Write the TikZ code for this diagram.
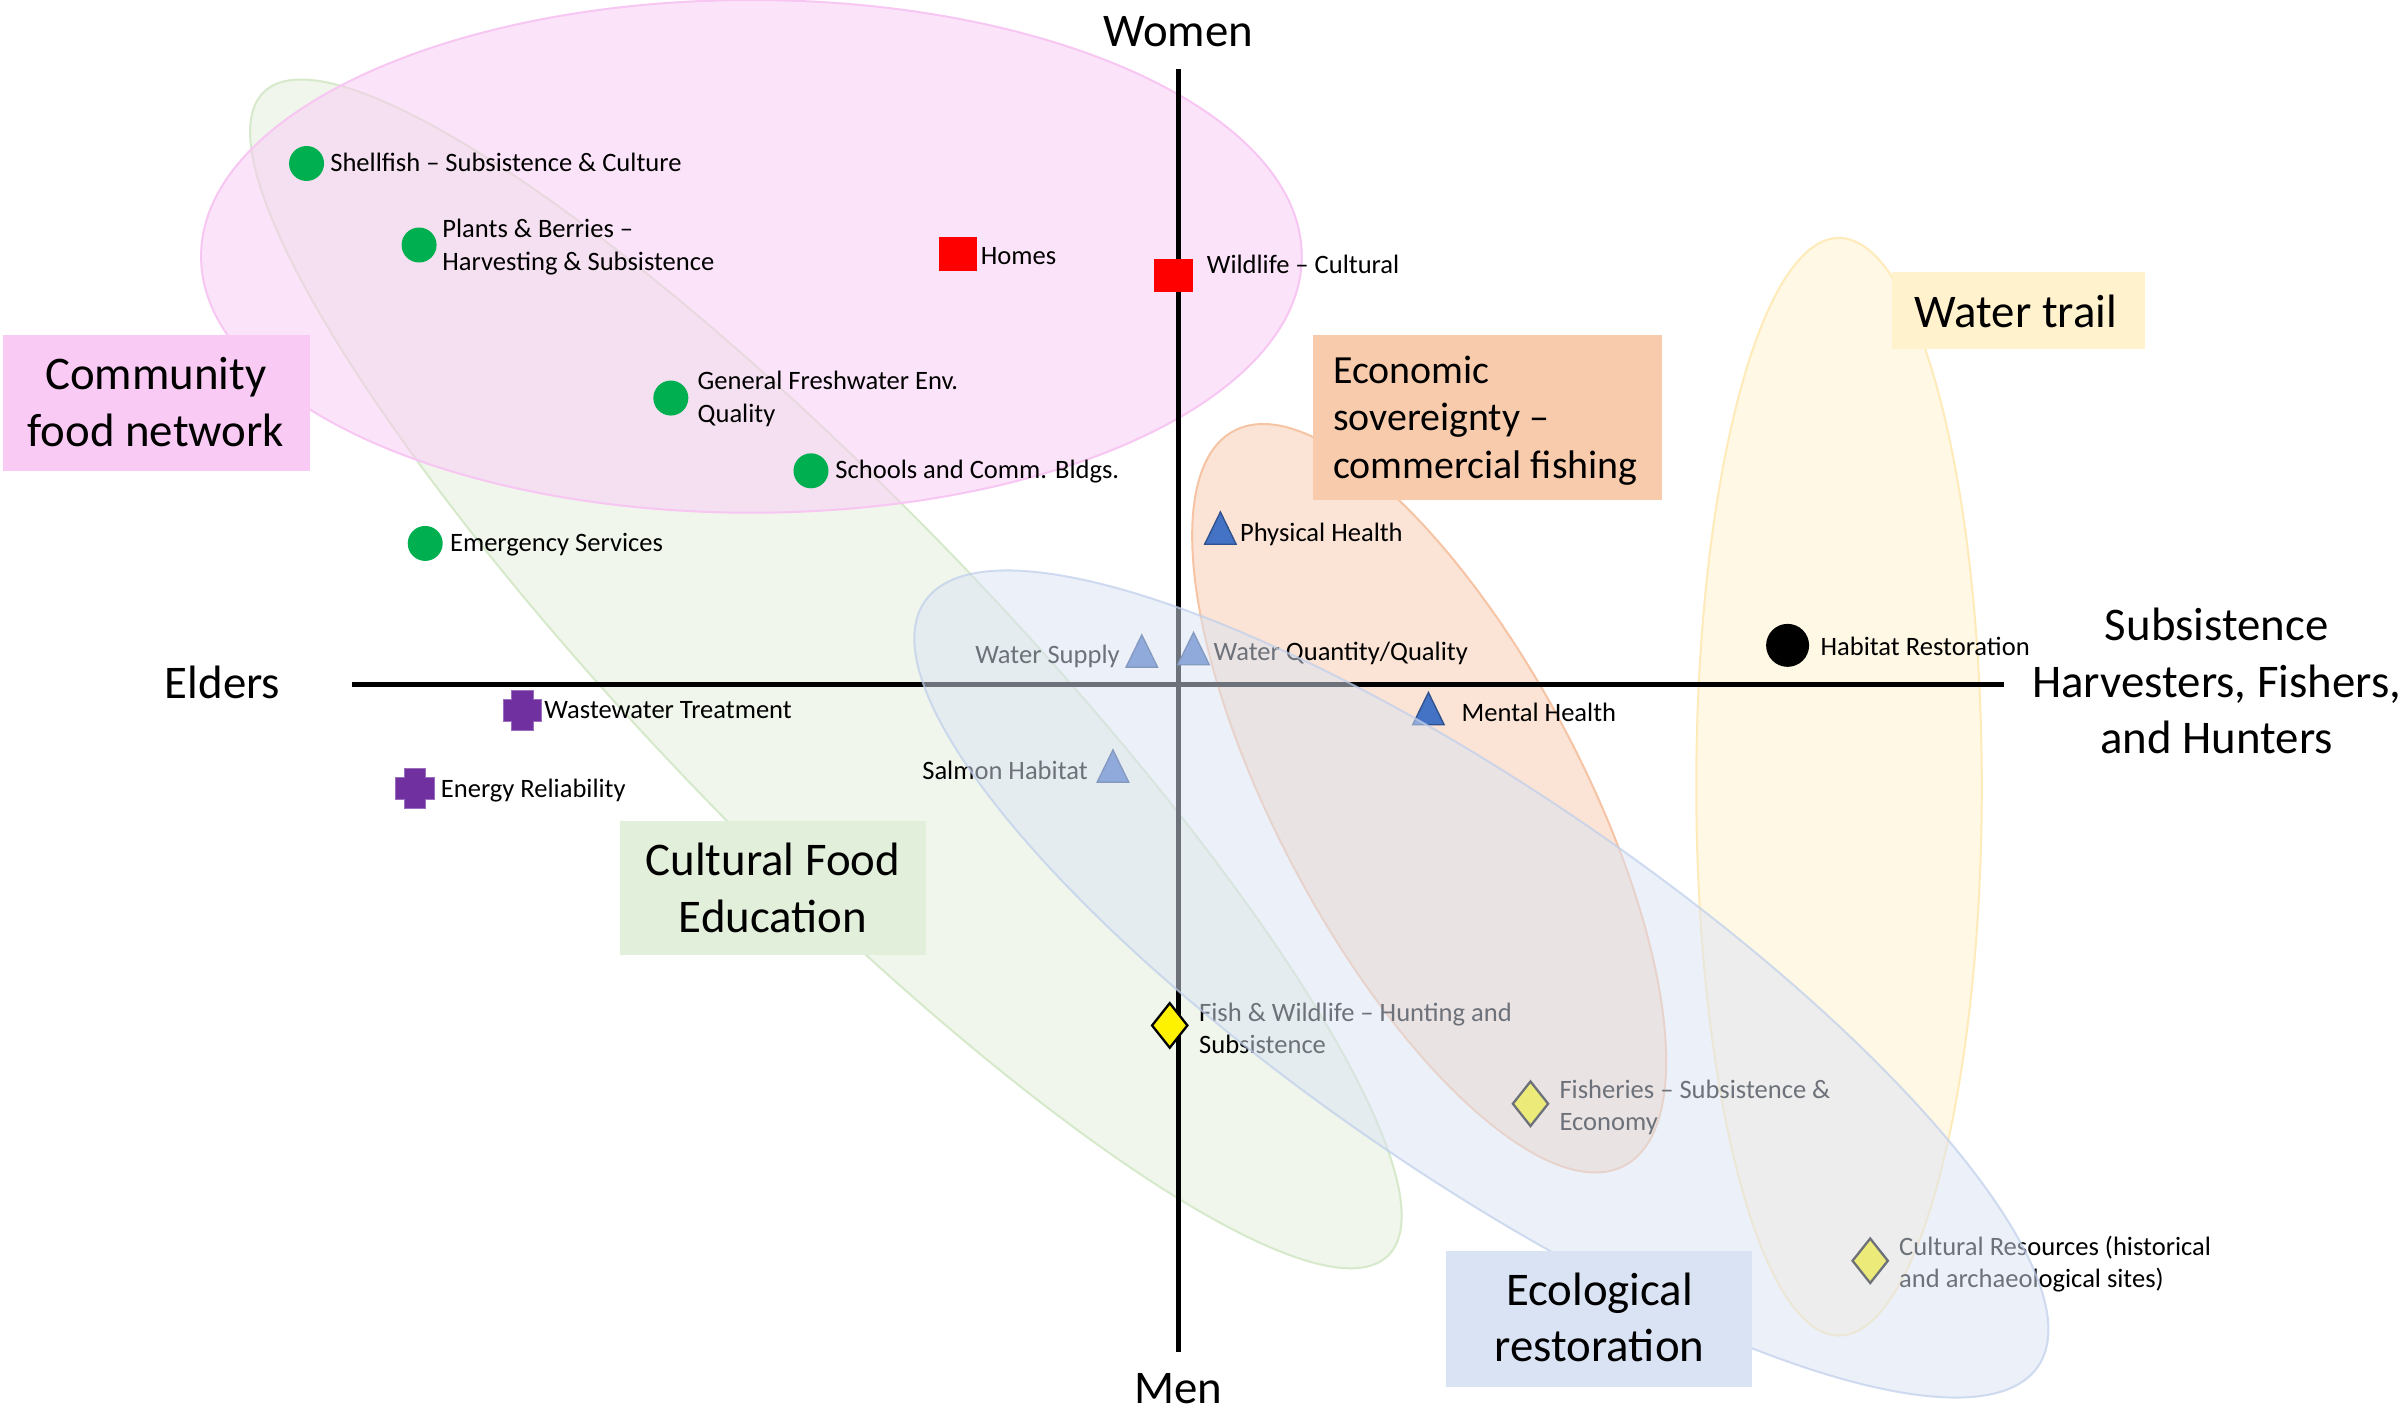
\documentclass[tikz,border=0pt]{standalone}
\usepackage{fontspec}
\setmainfont{Carlito}
\definecolor{pinkC}{RGB}{249,203,244}
\definecolor{pinkL}{RGB}{247,198,242}
\definecolor{greenC}{RGB}{226,239,218}
\definecolor{greenL}{RGB}{214,233,202}
\definecolor{orangeC}{RGB}{248,203,173}
\definecolor{orangeL}{RGB}{246,196,164}
\definecolor{yellowC}{RGB}{255,242,204}
\definecolor{yellowL}{RGB}{255,235,185}
\definecolor{blueC}{RGB}{218,227,243}
\definecolor{blueL}{RGB}{190,206,235}
\definecolor{dotgreen}{RGB}{0,176,80}
\definecolor{triblue}{RGB}{68,114,196}
\definecolor{triedge}{RGB}{47,82,143}
\definecolor{plum}{RGB}{112,48,160}
\newcommand\fitem{\fontsize{17.3pt}{21pt}\selectfont}
\newcommand\fbig{\fontsize{30.5pt}{36.7pt}\selectfont}
\newcommand\fecon{\fontsize{26pt}{31pt}\selectfont}
\newcommand\linesL[1]{\begin{tabular}[t]{@{}l@{}}#1\end{tabular}}
\newcommand\linesC[1]{\begin{tabular}[t]{@{}c@{}}#1\end{tabular}}
\tikzset{
  itemtxt/.style={font=\fitem, inner sep=0pt, anchor=base west, text=black},
  bigtxt/.style={font=\fbig, inner sep=0pt, anchor=base, text=black},
  econtxt/.style={font=\fecon, inner sep=0pt, anchor=base west, text=black},
  labelbox/.style={rectangle, inner sep=0pt, draw=none},
  gdot/.style={circle, fill=dotgreen, minimum size=22.8pt, inner sep=0pt},
  rsq/.style={rectangle, fill=red, minimum width=25pt, minimum height=22pt, inner sep=0pt},
  bdot/.style={circle, fill=black, minimum size=28pt, inner sep=0pt},
  axisline/.style={line width=3.3pt, black},
  trimark/.pic={\filldraw[fill=triblue, draw=triedge, line width=0.9pt, line join=miter]
     (0,-10.5) -- (10.25,10.5) -- (-10.25,10.5) -- cycle;},
  plusmark/.pic={\filldraw[fill=plum, draw=plum!70!white, line width=0.7pt]
     (-7,-13.2) -- (7,-13.2) -- (7,-7) -- (12.5,-7) -- (12.5,7) -- (7,7) -- (7,13.2)
     -- (-7,13.2) -- (-7,7) -- (-12.5,7) -- (-12.5,-7) -- (-7,-7) -- cycle;},
  diamark/.pic={\filldraw[fill=yellow, draw=black, line width=1.5pt, line join=miter]
     (0,-14.5) -- (11.5,0) -- (0,14.5) -- (-11.5,0) -- cycle;},
  region/.style={fill opacity=0.5, line width=1.3pt},
}
\begin{document}
\begin{tikzpicture}[x=1pt,y=-1pt]
\useasboundingbox (0,0) rectangle (1568,919);
\fill[white] (0,0) rectangle (1568,919);

% regions below the points
\path[region, fill=greenC, draw=greenL, rotate around={-46:(538,439)}]
  (538,439) ellipse [x radius=527pt, y radius=113pt];
\path[region, fill=pinkC, draw=pinkL, rotate around={0:(489.5,167)}]
  (489.5,167) ellipse [x radius=358.5pt, y radius=167pt];
\path[region, fill=orangeC, draw=orangeL, rotate around={-62:(931,520)}]
  (931,520) ellipse [x radius=271pt, y radius=99pt];
\path[region, fill=yellowC, draw=yellowL]
  (1198,512.5) ellipse [x radius=93pt, y radius=357.5pt];

% axes
\coordinate (xl) at (229,445.7);
\coordinate (xr) at (1305.6,445.7);
\coordinate (yt) at (767.9,45);
\coordinate (yb) at (767.9,880.6);
\draw[axisline] (xl) -- (xr);
\draw[axisline] (yt) -- (yb);

\node[bigtxt] (women) at (767.5,30) {Women};
\node[bigtxt] (men) at (767.5,914) {Men};
\node[bigtxt] (elders) at (145,455) {Elders};
\node[bigtxt] (subs) at (1444,417.5) {\linesC{Subsistence\\Harvesters, Fishers,\\and Hunters}};

% green dots
\node[gdot] (shellfishdot) at (199.7,106.5) {};
\node[itemtxt] (shellfish) at (215,111.5) {Shellfish -- Subsistence \& Culture};
\node[gdot] (plantsdot) at (273,159.6) {};
\node[itemtxt] (plants) at (288,155) {\linesL{Plants \& Berries --\\Harvesting \& Subsistence}};
\node[gdot] (freshdot) at (437,259.3) {};
\node[itemtxt] (fresh) at (454.3,254) {\linesL{General Freshwater Env.\\Quality}};
\node[gdot] (schooldot) at (528.3,306.7) {};
\node[itemtxt] (school) at (544,311.7) {Schools and Comm. Bldgs.};
\node[gdot] (emergdot) at (277,354) {};
\node[itemtxt] (emerg) at (293,359.5) {Emergency Services};

% red squares
\node[rsq] (homesq) at (624,165.3) {};
\node[itemtxt] (homes) at (638.8,172) {Homes};
\node[rsq] (wildsq) at (764.5,179.5) {};
\node[itemtxt] (wild) at (786,178) {Wildlife -- Cultural};

% black dot
\node[bdot] (habdot) at (1164.5,420.4) {};
\node[itemtxt] (hab) at (1185.8,427) {Habitat Restoration};

% triangles
\pic (physmark) at (795,344) {trimark};
\node[itemtxt] (phys) at (807.6,353) {Physical Health};
\pic (supplymark) at (743.8,424.1) {trimark};
\node[itemtxt, anchor=base east] (supply) at (729.6,432) {Water Supply};
\pic (wqqmark) at (777.5,422.5) {trimark};
\node[itemtxt] (wqq) at (790.4,430) {Water Quantity/Quality};
\pic (mentalmark) at (930.5,461.6) {trimark};
\node[itemtxt] (mental) at (952,470) {Mental Health};
\pic (salmonmark) at (725,499) {trimark};
\node[itemtxt, anchor=base east] (salmon) at (708.8,507.5) {Salmon Habitat};

% crosses
\pic (wastemark) at (340.5,462.8) {plusmark};
\node[itemtxt] (waste) at (354.5,468) {Wastewater Treatment};
\pic (energymark) at (270.3,513.6) {plusmark};
\node[itemtxt] (energy) at (287,519.4) {Energy Reliability};

% diamonds
\pic (fwmark) at (762,668) {diamark};
\node[itemtxt] (fw) at (781,665.5) {\linesL{Fish \& Wildlife -- Hunting and\\Subsistence}};
\pic (fishmark) at (997,719) {diamark};
\node[itemtxt] (fish) at (1015.7,715.5) {\linesL{Fisheries -- Subsistence \&\\Economy}};
\pic (culmark) at (1218.3,821.3) {diamark};
\node[itemtxt] (cul) at (1237,817.7) {\linesL{Cultural Resources (historical\\and archaeological sites)}};

% ecological restoration region on top
\path[region, fill=blueC, draw=blueL, draw opacity=0.7, rotate around={-34.5:(965,641)}]
  (965,641) ellipse [x radius=440pt, y radius=124pt];

% label boxes
\node[labelbox, fill=pinkC, minimum width=200pt, minimum height=88.4pt] (cfnbox) at (102,262.4) {};
\node[bigtxt] (cfn) at (101.5,254) {\linesC{Community\\food network}};
\node[labelbox, fill=orangeC, minimum width=227.6pt, minimum height=107.4pt] (econbox) at (968.8,272.1) {};
\node[econtxt] (econ) at (868.2,249.5) {\linesL{Economic\\sovereignty --\\commercial fishing}};
\node[labelbox, fill=yellowC, minimum width=164.3pt, minimum height=50.4pt] (wtbox) at (1314.85,202.4) {};
\node[bigtxt] (wt) at (1313.2,213.2) {Water trail};
\node[labelbox, fill=greenC, minimum width=199.6pt, minimum height=87.4pt] (cfebox) at (503.5,578.3) {};
\node[bigtxt] (cfe) at (503.5,570.5) {\linesC{Cultural Food\\Education}};
\node[labelbox, fill=blueC, minimum width=199.4pt, minimum height=88.2pt] (erbox) at (1041.9,859.1) {};
\node[bigtxt] (er) at (1042,850.5) {\linesC{Ecological\\restoration}};
\end{tikzpicture}
\end{document}
